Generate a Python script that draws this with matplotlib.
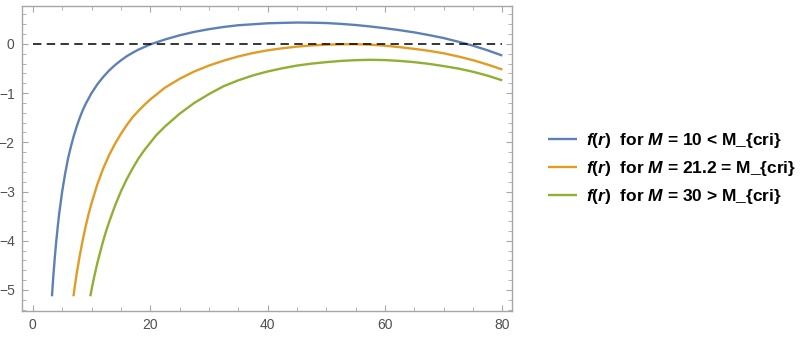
import matplotlib
matplotlib.use("Agg")
import matplotlib.pyplot as plt
from matplotlib.ticker import MultipleLocator

# values
r_m10 = [3.26, 3.4, 3.5, 3.75, 4, 4.25, 4.5, 5, 5.5, 6, 6.5, 7, 7.5, 8, 8.5, 9, 10,
         11, 12, 13, 14, 15, 16, 17, 18, 20, 22.5, 25, 27.5, 30, 32.5, 35, 37.5, 40,
         42.5, 45, 47.5, 50, 52.5, 55, 57.5, 60, 62.5, 65, 67.5, 70, 72.5, 75, 77.5, 80]
f_m10 = [-5.13, -4.88, -4.71, -4.33, -4.0, -3.71, -3.44, -3.0, -2.64, -2.33, -2.08,
         -1.86, -1.67, -1.5, -1.35, -1.22, -1.0, -0.82, -0.67, -0.54, -0.43, -0.335,
         -0.25, -0.18, -0.115, -0.01, 0.09, 0.175, 0.245, 0.30, 0.345, 0.38, 0.40,
         0.42, 0.428, 0.435, 0.432, 0.425, 0.408, 0.385, 0.355, 0.32, 0.28, 0.235,
         0.18, 0.12, 0.045, -0.035, -0.13, -0.236]

r_m21 = [6.92, 7.2, 7.5, 8, 8.5, 9, 9.5, 10, 11, 12, 13, 14, 15, 16, 17, 18, 19, 20,
         22.5, 25, 27.5, 30, 32.5, 35, 37.5, 40, 42.5, 45, 47.5, 50, 52.5, 55, 57.5,
         60, 62.5, 65, 67.5, 70, 72.5, 75, 77.5, 80]
f_m21 = [-5.13, -4.89, -4.65, -4.30, -3.99, -3.71, -3.46, -3.24, -2.85, -2.53, -2.26,
         -2.03, -1.83, -1.65, -1.49, -1.36, -1.24, -1.13, -0.89, -0.71, -0.56, -0.44,
         -0.34, -0.255, -0.185, -0.13, -0.088, -0.055, -0.03, -0.015, -0.007, -0.005,
         -0.015, -0.035, -0.065, -0.10, -0.14, -0.19, -0.255, -0.33, -0.42, -0.52]

r_m30 = [9.79, 10.1, 10.5, 11, 11.5, 12, 12.5, 13, 14, 15, 16, 17, 18, 19, 20, 21,
         22.5, 25, 27.5, 30, 32.5, 35, 37.5, 40, 42.5, 45, 47.5, 50, 52.5, 55, 57.5,
         60, 62.5, 65, 67.5, 70, 72.5, 75, 77.5, 80]
f_m30 = [-5.13, -4.94, -4.71, -4.45, -4.22, -4.0, -3.8, -3.62, -3.29, -3.0, -2.75,
         -2.53, -2.33, -2.16, -2.01, -1.86, -1.68, -1.42, -1.20, -1.02, -0.86, -0.74,
         -0.64, -0.56, -0.495, -0.44, -0.40, -0.37, -0.345, -0.33, -0.322, -0.328,
         -0.345, -0.37, -0.405, -0.45, -0.50, -0.565, -0.645, -0.74]

labels = [
    r"$f$($r$)  for $M$ = 10 < M_{cri}",
    r"$f$($r$)  for $M$ = 21.2 = M_{cri}",
    r"$f$($r$)  for $M$ = 30 > M_{cri}",
]
colors = ["#5E81B5", "#E19C24", "#8FB032"]

plt.rcParams["font.family"] = ["Liberation Sans", "DejaVu Sans"]
plt.rcParams["mathtext.fontset"] = "custom"
plt.rcParams["mathtext.it"] = "Liberation Sans:italic:bold"
plt.rcParams["mathtext.rm"] = "Liberation Sans:bold"

fig = plt.figure(figsize=(8.09, 3.37), dpi=100)
ax = fig.add_axes([0.0268, 0.077, 0.6057, 0.905])

lines = []
for r, f, c, lab in zip([r_m10, r_m21, r_m30], [f_m10, f_m21, f_m30], colors, labels):
    (ln,) = ax.plot(r, f, color=c, lw=1.7, label=lab, solid_capstyle="butt",
                    solid_joinstyle="round")
    lines.append(ln)

ax.plot([0, 80], [0, 0], color="black", lw=1.1, dashes=(5.5, 3.5))

ax.set_xlim(-1.9, 81.6)
ax.set_ylim(-5.43, 0.77)

ax.xaxis.set_major_locator(MultipleLocator(20))
ax.xaxis.set_minor_locator(MultipleLocator(5))
ax.yaxis.set_major_locator(MultipleLocator(1))
ax.yaxis.set_minor_locator(MultipleLocator(0.2))

frame = "#a6a6a6"
for s in ax.spines.values():
    s.set_color(frame)
    s.set_linewidth(1.0)
ax.tick_params(which="both", direction="in", top=True, right=True, color=frame,
               labelcolor="#505050", labelsize=10)
ax.tick_params(which="major", length=4.5, width=0.8, pad=5)
ax.tick_params(which="minor", length=2.6, width=0.6)

fig.legend(handles=lines, loc="center left", bbox_to_anchor=(0.667, 0.50),
           frameon=False, handlelength=1.65, handletextpad=0.55,
           labelspacing=0.5, borderpad=0, prop={"weight": "bold", "size": 12.5})

fig.savefig("out.png", dpi=100)
